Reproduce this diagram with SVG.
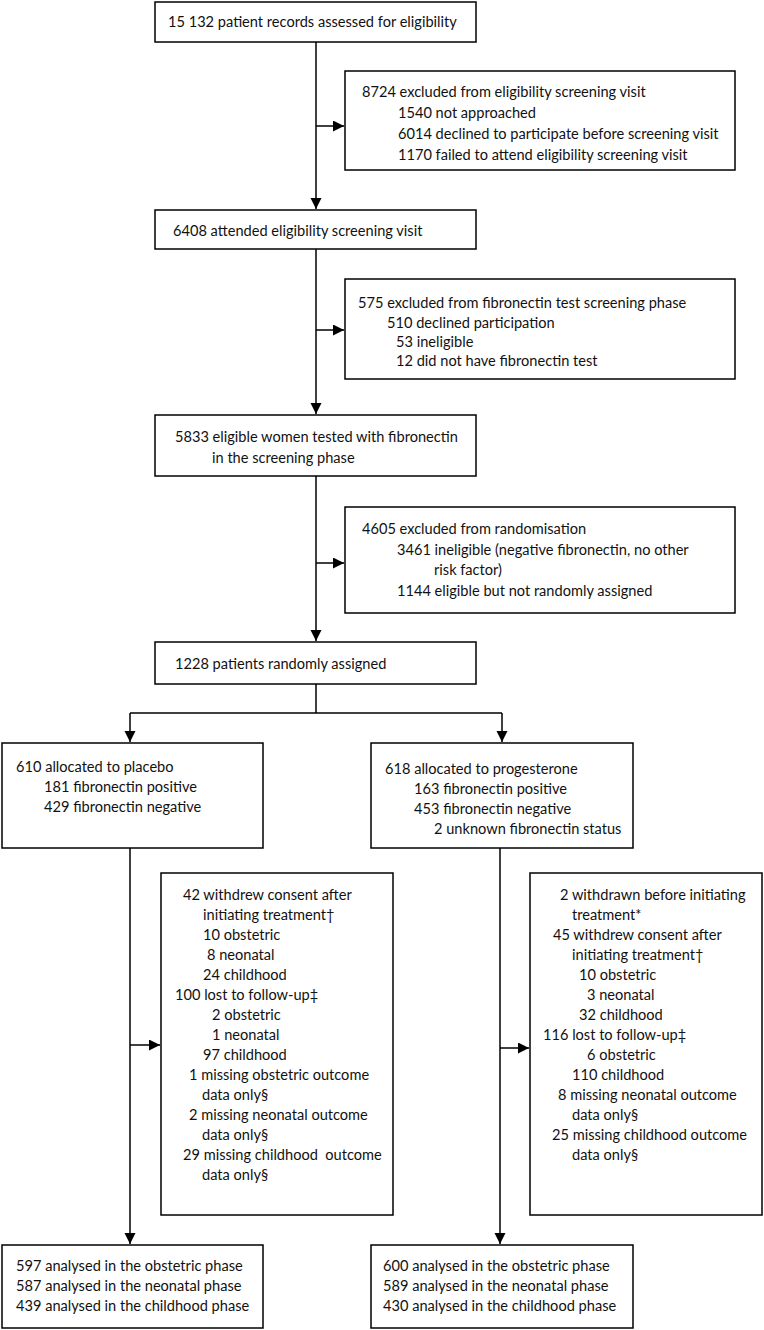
<svg xmlns="http://www.w3.org/2000/svg" width="764" height="1330" viewBox="0 0 764 1330">
<style>
.box{fill:#fff;stroke:#000;stroke-width:1.5}
.t{font-family:Lato,"Liberation Sans",sans-serif;font-size:14.6px;fill:#111}
.c{fill:none;stroke:#000;stroke-width:1.5}
</style>
<defs>
<marker id="ah" markerUnits="userSpaceOnUse" markerWidth="12" markerHeight="12" refX="11" refY="5.5" orient="auto">
<path d="M0,0 L11,5.5 L0,11 z" fill="#000"/>
</marker>
</defs>
<rect width="764" height="1330" fill="#fff"/>
<g id="connectors">
<path class="c" d="M316,42 V209" marker-end="url(#ah)"/>
<path class="c" d="M316,126 H344" marker-end="url(#ah)"/>
<path class="c" d="M316,249 V414" marker-end="url(#ah)"/>
<path class="c" d="M316,330 H344" marker-end="url(#ah)"/>
<path class="c" d="M316,476 V641" marker-end="url(#ah)"/>
<path class="c" d="M316,563 H344" marker-end="url(#ah)"/>
<path class="c" d="M316,684 V713 M130,713 H502"/>
<path class="c" d="M130,713 V742" marker-end="url(#ah)"/>
<path class="c" d="M502,713 V742" marker-end="url(#ah)"/>
<path class="c" d="M130,848 V1244" marker-end="url(#ah)"/>
<path class="c" d="M130,1045 H160" marker-end="url(#ah)"/>
<path class="c" d="M500,848 V1244" marker-end="url(#ah)"/>
<path class="c" d="M500,1048 H529" marker-end="url(#ah)"/>
</g>
<g id="n1"><rect class="box" x="155" y="2" width="321" height="40"/>
<text class="t" x="168" y="27">15 132 patient records assessed for eligibility</text></g>
<g id="n2"><rect class="box" x="345" y="71" width="390" height="99"/>
<text class="t" x="362" y="97">8724 excluded from eligibility screening visit</text>
<text class="t" x="398" y="118">1540 not approached</text>
<text class="t" x="398" y="139">6014 declined to participate before screening visit</text>
<text class="t" x="398" y="160">1170 failed to attend eligibility screening visit</text></g>
<g id="n3"><rect class="box" x="155" y="210" width="321" height="39"/>
<text class="t" x="173" y="236">6408 attended eligibility screening visit</text></g>
<g id="n4"><rect class="box" x="345" y="279" width="390" height="100"/>
<text class="t" x="358" y="308">575 excluded from fibronectin test screening phase</text>
<text class="t" x="387" y="328">510 declined participation</text>
<text class="t" x="396" y="347">53 ineligible</text>
<text class="t" x="396" y="366">12 did not have fibronectin test</text></g>
<g id="n5"><rect class="box" x="155" y="415" width="321" height="61"/>
<text class="t" x="175" y="442">5833 eligible women tested with fibronectin</text>
<text class="t" x="212" y="463">in the screening phase</text></g>
<g id="n6"><rect class="box" x="345" y="507" width="390" height="106"/>
<text class="t" x="362" y="534">4605 excluded from randomisation</text>
<text class="t" x="397" y="555">3461 ineligible (negative fibronectin, no other</text>
<text class="t" x="434" y="575">risk factor)</text>
<text class="t" x="397" y="596">1144 eligible but not randomly assigned</text></g>
<g id="n7"><rect class="box" x="155" y="642" width="321" height="42"/>
<text class="t" x="175" y="669">1228 patients randomly assigned</text></g>
<g id="n8"><rect class="box" x="2" y="743" width="261" height="105"/>
<text class="t" x="16" y="772">610 allocated to placebo</text>
<text class="t" x="44" y="792">181 fibronectin positive</text>
<text class="t" x="44" y="812">429 fibronectin negative</text></g>
<g id="n9"><rect class="box" x="371" y="743" width="262" height="105"/>
<text class="t" x="385" y="774">618 allocated to progesterone</text>
<text class="t" x="414" y="794">163 fibronectin positive</text>
<text class="t" x="414" y="814">453 fibronectin negative</text>
<text class="t" x="434" y="834">2 unknown fibronectin status</text></g>
<g id="n10"><rect class="box" x="161" y="873" width="232" height="342"/>
<text class="t" x="183" y="900">42 withdrew consent after</text>
<text class="t" x="203" y="920">initiating treatment†</text>
<text class="t" x="203" y="940">10 obstetric</text>
<text class="t" x="207" y="960">8 neonatal</text>
<text class="t" x="203" y="980">24 childhood</text>
<text class="t" x="175" y="1000">100 lost to follow-up‡</text>
<text class="t" x="212" y="1020">2 obstetric</text>
<text class="t" x="212" y="1040">1 neonatal</text>
<text class="t" x="203" y="1060">97 childhood</text>
<text class="t" x="189" y="1080">1 missing obstetric outcome</text>
<text class="t" x="202" y="1100">data only§</text>
<text class="t" x="189" y="1120">2 missing neonatal outcome</text>
<text class="t" x="202" y="1140">data only§</text>
<text class="t" x="183" y="1160" xml:space="preserve">29 missing childhood  outcome</text>
<text class="t" x="202" y="1180">data only§</text></g>
<g id="n11"><rect class="box" x="530" y="873" width="232" height="342"/>
<text class="t" x="560" y="900">2 withdrawn before initiating</text>
<text class="t" x="572" y="920">treatment*</text>
<text class="t" x="553" y="940">45 withdrew consent after</text>
<text class="t" x="572" y="960">initiating treatment†</text>
<text class="t" x="579" y="980">10 obstetric</text>
<text class="t" x="587" y="1000">3 neonatal</text>
<text class="t" x="579" y="1020">32 childhood</text>
<text class="t" x="543" y="1040">116 lost to follow-up‡</text>
<text class="t" x="587" y="1060">6 obstetric</text>
<text class="t" x="572" y="1080">110 childhood</text>
<text class="t" x="558" y="1100">8 missing neonatal outcome</text>
<text class="t" x="572" y="1120">data only§</text>
<text class="t" x="552" y="1140">25 missing childhood outcome</text>
<text class="t" x="572" y="1160">data only§</text></g>
<g id="n12"><rect class="box" x="2" y="1245" width="261" height="83"/>
<text class="t" x="16" y="1271">597 analysed in the obstetric phase</text>
<text class="t" x="16" y="1291">587 analysed in the neonatal phase</text>
<text class="t" x="16" y="1311">439 analysed in the childhood phase</text></g>
<g id="n13"><rect class="box" x="371" y="1245" width="262" height="83"/>
<text class="t" x="383" y="1271">600 analysed in the obstetric phase</text>
<text class="t" x="383" y="1291">589 analysed in the neonatal phase</text>
<text class="t" x="383" y="1311">430 analysed in the childhood phase</text></g>
</svg>
